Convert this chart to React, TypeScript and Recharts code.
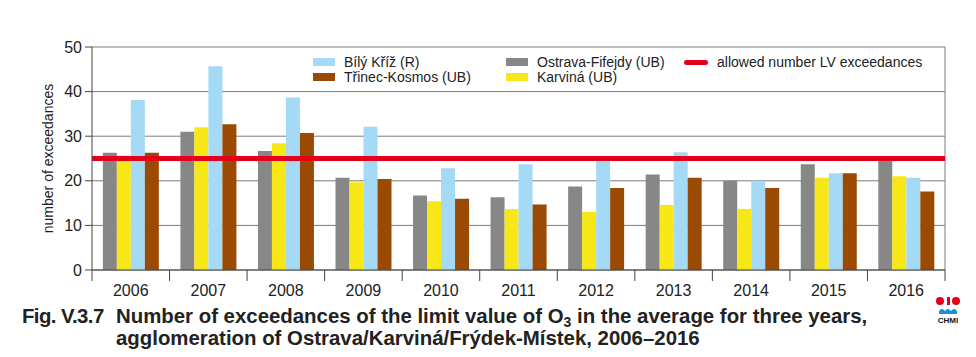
import {
  Bar,
  BarChart,
  CartesianGrid,
  ReferenceLine,
  XAxis,
  YAxis,
} from "recharts";

const years = ["2006", "2007", "2008", "2009", "2010", "2011", "2012", "2013", "2014", "2015", "2016"];
const ostrava = [26.3, 31.0, 26.7, 20.7, 16.7, 16.3, 18.7, 21.4, 20.0, 23.7, 25.0];
const karvina = [25.7, 32.0, 28.4, 19.7, 15.4, 13.7, 13.0, 14.6, 13.7, 20.7, 21.0];
const bilyKriz = [38.1, 45.7, 38.7, 32.1, 22.8, 23.7, 24.7, 26.4, 20.0, 21.7, 20.7];
const trinec = [26.3, 32.7, 30.7, 20.4, 16.0, 14.7, 18.4, 20.7, 18.4, 21.7, 17.6];
const yTicks = [0, 10, 20, 30, 40, 50];
const limit = 25;

const data = years.map((year, i) => ({
  year,
  ostrava: ostrava[i],
  karvina: karvina[i],
  bilyKriz: bilyKriz[i],
  trinec: trinec[i],
}));

const W = 976;
const H = 357;
const X_H = 30;
const M = { top: 47, right: 31, bottom: 57, left: 0 };
const Y_W = 92;
const PLOT_W = W - Y_W - M.right;
const BAND = PLOT_W / years.length;
const FONT = "'Liberation Sans', Arial, sans-serif";
const AXIS = "#444";

const C = {
  gray: "#878787",
  yellow: "#f8e716",
  blue: "#a4daf5",
  brown: "#9b4a03",
  red: "#e2001a",
};

function YearTick(props: any) {
  const { x, y, payload, index } = props;
  const last = index === years.length - 1;
  return (
    <g>
      <line x1={x - BAND / 2} y1={y} x2={x - BAND / 2} y2={y + 11} stroke={AXIS} />
      {last && <line x1={x + BAND / 2} y1={y} x2={x + BAND / 2} y2={y + 11} stroke={AXIS} />}
      <text x={x} y={y + 26} textAnchor="middle" fontSize={16} fill="#222" fontFamily={FONT}>
        {payload.value}
      </text>
    </g>
  );
}

function Swatch({ color }: { color: string }) {
  return <span style={{ display: "inline-block", width: 22, height: 8, background: color, marginRight: 9 }} />;
}

function LegendItem({ color, label, line }: { color: string; label: string; line?: boolean }) {
  return (
    <div style={{ display: "flex", alignItems: "center", height: 14.5 }}>
      {line ? (
        <span style={{ display: "inline-block", width: 24, height: 5, borderRadius: 3, background: color, marginRight: 9 }} />
      ) : (
        <Swatch color={color} />
      )}
      <span>{label}</span>
    </div>
  );
}

export default function App() {
  return (
    <div style={{ position: "absolute", left: 0, top: 0, width: W, height: H, background: "#fff", overflow: "hidden", fontFamily: FONT }}>
      <BarChart width={W} height={H} data={data} margin={M} barCategoryGap="14%" barGap={0}>
        <CartesianGrid
          vertical={true}
          stroke="#7a7a7a"
          verticalCoordinatesGenerator={({ offset }: any) => [offset.left + offset.width]}
        />
        <XAxis
          dataKey="year"
          height={X_H}
          tickLine={false}
          tickSize={0}
          tickMargin={0}
          axisLine={{ stroke: AXIS }}
          tick={<YearTick />}
          interval={0}
        />
        <YAxis
          width={Y_W}
          domain={[0, 50]}
          ticks={yTicks}
          interval={0}
          tickSize={7}
          tickMargin={3}
          tickLine={{ stroke: AXIS }}
          axisLine={{ stroke: AXIS }}
          tick={{ fontSize: 16, fill: "#222", fontFamily: FONT }}
          label={{
            value: "number of exceedances",
            angle: -90,
            position: "insideLeft",
            offset: 48,
            style: { fontSize: 14, fill: "#222", fontFamily: FONT, textAnchor: "middle" },
          }}
        />
        <Bar dataKey="ostrava" fill={C.gray} isAnimationActive={false} />
        <Bar dataKey="karvina" fill={C.yellow} isAnimationActive={false} />
        <Bar dataKey="bilyKriz" fill={C.blue} isAnimationActive={false} />
        <Bar dataKey="trinec" fill={C.brown} isAnimationActive={false} />
        <ReferenceLine y={limit} stroke={C.red} strokeWidth={5} />
      </BarChart>

      <div style={{ position: "absolute", left: 313, top: 55, fontSize: 14, color: "#222", display: "flex" }}>
        <div style={{ width: 193 }}>
          <LegendItem color={C.blue} label="Bílý Kříž (R)" />
          <LegendItem color={C.brown} label="Třinec-Kosmos (UB)" />
        </div>
        <div style={{ width: 178 }}>
          <LegendItem color={C.gray} label="Ostrava-Fifejdy (UB)" />
          <LegendItem color={C.yellow} label="Karviná (UB)" />
        </div>
        <div>
          <LegendItem color={C.red} label="allowed number LV exceedances" line />
        </div>
      </div>

      <div
        style={{
          position: "absolute",
          left: 22,
          top: 306,
          display: "flex",
          fontWeight: 700,
          fontSize: 20.4,
          lineHeight: "20px",
          color: "#222",
        }}
      >
        <div style={{ width: 94, flex: "none", letterSpacing: -0.6 }}>Fig. V.3.7</div>
        <div style={{ whiteSpace: "nowrap" }}>
          Number of exceedances of the limit value of O
          <span style={{ fontSize: 14, position: "relative", top: 4 }}>3</span> in the average for three years,
          <br />
          agglomeration of Ostrava/Karviná/Frýdek-Místek, 2006–2016
        </div>
      </div>

      <svg style={{ position: "absolute", left: 934, top: 294 }} width={30} height={32}>
        <circle cx={6} cy={7} r={4} fill={C.red} />
        <circle cx={22} cy={7} r={4} fill={C.red} />
        <rect x={13} y={3} width={3} height={8} fill={C.red} />
        <path d="M5 17 q3 -4 6 0 q3 -4 6 0 q3 -4 6 0 v3 h-18 z" fill="#1b8fd6" />
        <text x={14} y={29} textAnchor="middle" fontSize={8} fontWeight={700} fill="#111" fontFamily={FONT}>
          CHMI
        </text>
      </svg>
    </div>
  );
}
